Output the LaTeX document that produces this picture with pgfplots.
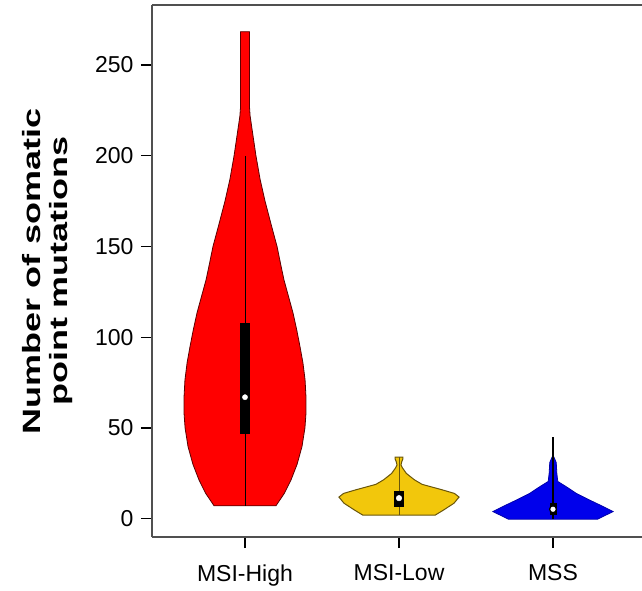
\documentclass[border=0pt]{standalone}
\usepackage{pgfplots}
\pgfplotsset{compat=1.18}
\usepackage{fontspec}
\setmainfont{Liberation Sans}
\newfontfamily\labfont[FakeStretch=1.44]{Liberation Sans}

\definecolor{vred}{RGB}{255,0,0}
\definecolor{vredline}{RGB}{90,0,0}
\definecolor{vgold}{RGB}{242,199,12}
\definecolor{vgoldline}{RGB}{105,85,10}
\definecolor{vblue}{RGB}{0,0,235}
\definecolor{vblueline}{RGB}{0,0,170}
\definecolor{axgray}{RGB}{80,80,80}

\begin{document}
\begin{tikzpicture}
\begin{axis}[
  scale only axis,
  width=490pt, height=532pt,
  xmin=0.396, xmax=3.578,
  ymin=-10, ymax=283,
  axis x line*=bottom,
  axis y line*=left,
  axis line style={axgray, line width=1.5pt},
  xtick style={draw=black, line width=1.6pt},
  ytick style={draw=black, line width=1.3pt},
  xtick align=outside,
  ytick align=outside,
  major tick length=11pt,
  xtick={1,2,3},
  xticklabels={MSI-High, MSI-Low, MSS},
  ytick={0,50,100,150,200,250},
  minor tick num=0,
  /pgf/number format/assume math mode=true,
  tick label style={font=\fontsize{23}{27}\selectfont, text=black},
  yticklabel style={xshift=-4pt},
  xticklabel style={yshift=-13pt},
  ylabel={Number of somatic\\point mutations},
  ylabel style={align=center, font=\labfont\bfseries\fontsize{25}{27}\selectfont,
    at={(axis description cs:-0.213,0.5)}, anchor=center},
  clip=false,
]
% top frame line
\draw[axgray, line width=1.5pt] (rel axis cs:0,1) -- (rel axis cs:1,1);

% MSI-High violin
\addplot[fill=vred, draw=vredline, line width=0.8pt] coordinates {
  (0.799,7.2) (1.201,7.2) (1.255,14) (1.299,21.5) (1.338,30) (1.370,39.8)
  (1.389,50) (1.396,58.2) (1.396,67) (1.390,76.5) (1.376,86) (1.357,94.9)
  (1.336,104) (1.312,113.3) (1.284,122) (1.253,131.6) (1.232,140) (1.208,150)
  (1.170,162) (1.130,175) (1.098,187) (1.071,200) (1.045,215) (1.033,222)
  (1.029,227) (1.029,268.3)
  (0.971,268.3) (0.971,227) (0.967,222) (0.955,215) (0.929,200) (0.902,187)
  (0.870,175) (0.830,162) (0.792,150) (0.768,140) (0.747,131.6) (0.716,122)
  (0.688,113.3) (0.664,104) (0.643,94.9) (0.624,86) (0.610,76.5) (0.604,67)
  (0.604,58.2) (0.611,50) (0.630,39.8) (0.662,30) (0.701,21.5) (0.745,14)
} -- cycle;
\addplot[black, line width=0.7pt] coordinates {(1,7.2) (1,200)};
\addplot[fill=black, draw=black] coordinates {(0.972,47) (1.028,47) (1.028,108) (0.972,108)} -- cycle;
\addplot[only marks, mark=*, mark size=2.6pt, mark options={fill=white, draw=white}] coordinates {(1,67)};

% MSI-Low violin
\addplot[fill=vgold, draw=vgoldline, line width=1pt] coordinates {
  (1.766,2) (2.234,2) (2.292,5) (2.357,8.6) (2.390,12) (2.360,14) (2.280,16)
  (2.150,19) (2.100,21.5) (2.048,25) (2.023,28) (2.013,29.7) (2.018,31.5)
  (2.025,33) (2.025,34)
  (1.975,34) (1.975,33) (1.982,31.5) (1.987,29.7) (1.977,28) (1.952,25)
  (1.900,21.5) (1.850,19) (1.720,16) (1.640,14) (1.610,12) (1.643,8.6)
  (1.708,5)
} -- cycle;
\addplot[vgoldline, line width=0.9pt] coordinates {(2,2) (2,34)};
\addplot[fill=black, draw=black] coordinates {(1.971,6.8) (2.029,6.8) (2.029,15) (1.971,15)} -- cycle;
\addplot[only marks, mark=*, mark size=2.8pt, mark options={fill=white, draw=white}] coordinates {(2,11.4)};

% MSS violin
\addplot[fill=vblue, draw=vblueline, line width=0.8pt] coordinates {
  (2.710,-0.2) (3.290,-0.2) (3.325,1.3) (3.390,4.0) (3.325,6.8) (3.234,10.5)
  (3.150,14.1) (3.084,17.8) (3.031,20.6) (3.025,25) (3.021,31) (3.006,34)
  (2.994,34) (2.979,31) (2.975,25) (2.969,20.6) (2.916,17.8) (2.850,14.1)
  (2.766,10.5) (2.675,6.8) (2.610,4.0) (2.675,1.3)
} -- cycle;
\addplot[black, line width=1.4pt] coordinates {(3,-0.2) (3,45.3)};
\addplot[fill=black, draw=black] coordinates {(2.98,2.5) (3.02,2.5) (3.02,8.5) (2.98,8.5)} -- cycle;
\addplot[only marks, mark=*, mark size=3.4pt, mark options={fill=white, draw=black, line width=1.2pt}] coordinates {(3,5.3)};
\end{axis}
\pgfresetboundingbox
\path (current axis.south west) +(-152pt,-53pt) (current axis.north east) +(0pt,5pt);
\end{tikzpicture}
\end{document}
